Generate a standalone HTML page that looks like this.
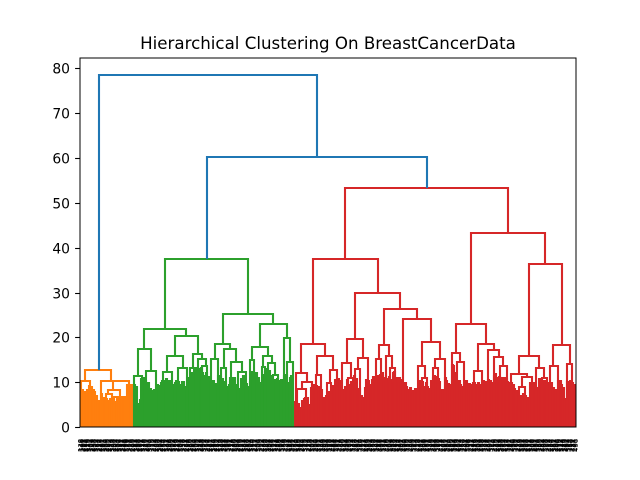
<!DOCTYPE html>
<html>
<head>
<meta charset="utf-8">
<style>
html,body{margin:0;padding:0;background:#fff;}
svg{display:block;font-family:"DejaVu Sans","Liberation Sans",sans-serif;}
</style>
</head>
<body>
<svg id="chart" width="640" height="480" viewBox="0 0 640 480" xmlns="http://www.w3.org/2000/svg">
  <defs><clipPath id="plot-clip"><rect x="80" y="57.6" width="496" height="369.6"/></clipPath></defs>
  <rect x="0" y="0" width="640" height="480" fill="#fff"/>
  <g id="marks" clip-path="url(#plot-clip)" fill="none" stroke-width="2.1"></g>
  <g id="y-axis"></g>
  <g id="x-labels" font-size="6.94" fill="#000"></g>
  <rect x="80" y="58" width="496" height="369" fill="none" stroke="#000" stroke-width="1.1" shape-rendering="crispEdges"/>
  <text x="328" y="49" text-anchor="middle" font-size="16.67" fill="#000">Hierarchical Clustering On BreastCancerData</text>
</svg>
<script>
// Link rows: [left leaf position, right leaf position, merge height, left leg base, right leg base]
const blueLinks = [
  [21.8, 271.8, 78.5, 12.7, 60.2],
  [145.7, 398, 60.2, 37.5, 53.3]
];
const orangeLinks = [
  [6.3, 36.1, 12.7, 10.4, 10.4],
  [1.5, 11.5, 10.4, 0, 0],
  [23.7, 47.4, 10.4, 0, 10.3],
  [38.2, 56.5, 10.3, 8.3, 9.4],
  [32.5, 45.9, 8.3, 7.5, 6.8],
  [29.5, 36.4, 7.5, 0, 0],
  [53.9, 59.6, 9.4, 0, 0],
  [39, 51.6, 6.8, 0, 0]
];
const greenLinks = [
  [97.5, 192.7, 37.5, 21.9, 25.3],
  [73.4, 121.6, 21.9, 17.4, 20.3],
  [163.7, 221.7, 25.3, 18.6, 23],
  [66.2, 81.4, 17.4, 11.5, 12.6],
  [109, 135.7, 20.3, 15.9, 16.3],
  [62.3, 71.5, 11.5, 0, 0],
  [75.4, 86.8, 12.6, 0, 0],
  [99.4, 118.5, 15.9, 12.2, 13.1],
  [95.5, 105.2, 12.2, 0, 0],
  [112.8, 122.4, 13.1, 0, 0],
  [130, 140.3, 16.3, 13.2, 15.2],
  [135.7, 144.5, 15.2, 0, 13.6],
  [126.2, 133.1, 13.2, 0, 0],
  [140.3, 146, 13.6, 0, 0],
  [154.8, 172, 18.6, 15.2, 17.4],
  [150.3, 158.6, 15.2, 0, 0],
  [165.2, 178.9, 17.4, 13.2, 14.5],
  [162.3, 167.5, 13.2, 0, 0],
  [173.2, 185.8, 14.5, 11, 12.2],
  [180.9, 190.1, 12.2, 0, 0],
  [172, 177.7, 11, 0, 0],
  [206.5, 237.1, 23, 17.9, 19.9],
  [197.3, 215.6, 17.9, 15, 15.9],
  [234, 240.9, 19.9, 0, 14.5],
  [237.4, 244.3, 14.5, 0, 0],
  [195, 199.6, 15, 0, 0],
  [209.6, 219.9, 15.9, 13.4, 14.4],
  [208.8, 212.2, 13.4, 0, 0],
  [216, 223.7, 14.4, 0, 11.6],
  [221, 226.7, 11.6, 0, 0]
];
const redLinks = [
  [304, 491, 53.3, 37.5, 43.3],
  [267.3, 341.5, 37.5, 18.6, 30],
  [253.5, 281, 18.6, 12.1, 15.9],
  [247.4, 260.7, 12.1, 0, 10.1],
  [254.3, 265.8, 10.1, 8.5, 0],
  [248.5, 259, 8.5, 0, 0],
  [272.4, 290.5, 15.9, 11.6, 12.8],
  [270.4, 276.1, 11.6, 0, 0],
  [286.7, 295.1, 12.8, 9.8, 0],
  [282.9, 288, 9.8, 0, 0],
  [315.4, 367, 30, 19.7, 26.3],
  [306.2, 324.6, 19.7, 14.3, 15.4],
  [300.2, 310.5, 14.3, 0, 11],
  [307.4, 313.1, 11, 0, 0],
  [318.9, 330.3, 15.4, 13, 0],
  [315.4, 321, 13, 0, 0],
  [348.7, 386.5, 26.3, 18.3, 24.1],
  [343, 354.4, 18.3, 15.2, 15.9],
  [339.2, 345.2, 15.2, 0, 0],
  [350.6, 357.9, 15.9, 0, 13.2],
  [355.6, 361.3, 13.2, 0, 0],
  [370.5, 402.6, 24.1, 0, 19],
  [392.3, 412.9, 19, 13.6, 15.2],
  [387.7, 395.7, 13.6, 0, 11],
  [391.9, 398.3, 11, 0, 0],
  [407.2, 418.7, 15.2, 13.2, 0],
  [404.5, 410.3, 13.2, 0, 0],
  [448.5, 533.4, 43.3, 22.9, 36.4],
  [430.9, 465.3, 22.9, 16.6, 18.6],
  [426.7, 435.9, 16.6, 0, 14.5],
  [432.1, 440.4, 14.5, 0, 0],
  [456.8, 474.9, 18.6, 12.5, 17.2],
  [451.9, 461.4, 12.5, 0, 0],
  [467.6, 480.6, 17.2, 0, 15.7],
  [474.9, 485.2, 15.7, 0, 13.6],
  [481.7, 489.4, 13.6, 0, 0],
  [515, 552.9, 36.4, 15.9, 18.3],
  [503.5, 526.8, 15.9, 11.9, 13.1],
  [494, 512.7, 11.9, 0, 11.3],
  [506.6, 518.1, 11.3, 9, 0],
  [503.5, 510.4, 9, 0, 0],
  [523, 532.2, 13.1, 0, 11],
  [529.6, 535.7, 11, 0, 0],
  [543.1, 562, 18.3, 13.7, 14.1],
  [539.1, 548.6, 13.7, 0, 0],
  [558.2, 564.7, 14.1, 0, 0]
];
// Lowest merge heights, one value per consecutive pair of leaves
const orangeLeafMerges = [7.8,8.3,7.8,7.6,8.2,9.2,9,8.2,7.8,7,5.8,5.4,7.4,6.6,6,6.4,5.8,6.2,5.6,6.2,5.6,6.6,6.2,6.4,6.8,6.2,6,8,9,8];
const greenLeafMerges = [8,9.4,9,5.2,6,10.8,11,10.4,9.4,9.8,8.6,8,8.2,6.8,9.4,9.2,9.8,10.2,10.4,10.8,10.2,10.4,9.6,9.4,10,10.2,10,9.4,10.2,10,9,9.4,11.2,11,12,13,13.2,13.2,13,13.2,12,11.4,12,11.2,10.8,10,10.2,9.6,4.4,11.4,11.2,10.8,9.8,10,9,9.6,10,10.6,10.8,9.6,9,8.6,10.8,11.6,11.4,9.6,9,10.2,12.2,12.4,12,12.4,11,9.8,10.2,11.6,12.4,13,12.6,11.4,10.6,10.6,10,10.8,10.2,10.6,10.4,11.4,11.6,9.8,11,11.4];
const redLeafMerges = [5.4,5.6,5.6,5.2,4.2,5.8,6.4,6.4,6.4,5,9,9.4,9.4,9.2,8.6,9,8.4,6.4,6.6,7,7.8,7.6,7.4,9.2,10.6,10.8,10.8,10.4,8.4,8,9,10.6,9.4,10,8.2,11.4,10.8,8,8.6,7,6.6,9,10.6,10.4,9.4,10.8,11.2,11,11.4,10.6,11.6,12,11,11.6,10.8,11.2,10.6,12.2,12.2,11,10.6,11,10.6,9.4,9.8,9,8.4,8.8,8,7.8,8.6,8.4,8,10.4,10,9,9.8,9,8.6,10.4,11.2,11.4,11.2,10.8,10.2,8.4,8.2,11,10.6,9.6,9.4,13.8,13.8,12,10.4,10.2,9.4,9,9.2,10.2,9.6,9.6,9.4,9.8,9.8,9.4,9.8,9,9.4,10.4,10,10,10.6,10.4,9.8,11.6,11.8,11,11.2,10.8,10.9,11,10.8,10.4,9.8,9.8,9.4,8.8,8,4.4,7,6.4,7.4,7,6.6,5.4,9.8,9,9.8,9,8.8,10.8,10.6,9.4,10.4,9.2,9.8,9.4,9.8,8.8,8.2,8.4,10.2,10.4,9.6,8.8,6.2,10,10.4,10.2,9.8,9.4,9.4];
const yTicks = [0,10,20,30,40,50,60,70,80];
const leafCount = 569;
const yMax = 82.4;

const SVGNS = 'http://www.w3.org/2000/svg';
const xScale = function (pos) { return 80 + pos * 496 / leafCount; };
const yScale = function (h) { return 427.2 - h * 369.6 / yMax; };

const marks = document.getElementById('marks');

function uPath(l, r, top, lb, rb) {
  const xl = Math.round(xScale(l));
  const xr = Math.round(xScale(r));
  const yt = Math.round(yScale(top));
  return 'M' + xl + ' ' + yScale(lb) + 'L' + xl + ' ' + yt +
         'L' + xr + ' ' + yt + 'L' + xr + ' ' + yScale(rb);
}

function drawLeaves(values, startPos, color, clusterName) {
  values.forEach(function (h, i) {
    const p = document.createElementNS(SVGNS, 'path');
    p.setAttribute('d', uPath(startPos + i * 2 + 0.5, startPos + i * 2 + 1.5, h, 0, 0));
    p.setAttribute('stroke', color);
    
    
    marks.appendChild(p);
  });
}

function drawLinks(rows, color, clusterName) {
  rows.forEach(function (row) {
    const p = document.createElementNS(SVGNS, 'path');
    p.setAttribute('d', uPath(row[0], row[1], row[2], row[3], row[4]));
    p.setAttribute('stroke', color);
    
    
    marks.appendChild(p);
  });
}

drawLeaves(orangeLeafMerges, 0, '#ff7f0e', 'orange-cluster');
drawLeaves(greenLeafMerges, orangeLeafMerges.length * 2, '#2ca02c', 'green-cluster');
drawLeaves(redLeafMerges, (orangeLeafMerges.length + greenLeafMerges.length) * 2, '#d62728', 'red-cluster');
drawLinks(orangeLinks, '#ff7f0e', 'orange-cluster');
drawLinks(greenLinks, '#2ca02c', 'green-cluster');
drawLinks(redLinks, '#d62728', 'red-cluster');
drawLinks(blueLinks, '#1f77b4', 'top-level');

const yAxis = document.getElementById('y-axis');
yTicks.forEach(function (t) {
  const y = Math.round(yScale(t));
  const tick = document.createElementNS(SVGNS, 'line');
  tick.setAttribute('x1', 75.1);
  tick.setAttribute('x2', 80);
  tick.setAttribute('y1', y + 0.5);
  tick.setAttribute('y2', y + 0.5);
  tick.setAttribute('stroke', '#000');
  tick.setAttribute('stroke-width', 1.1);
  
  
  yAxis.appendChild(tick);
  const label = document.createElementNS(SVGNS, 'text');
  label.setAttribute('x', 70);
  label.setAttribute('y', y + 5.6);
  label.setAttribute('text-anchor', 'end');
  label.setAttribute('font-size', 13.89);
  label.setAttribute('fill', '#000');
  
  
  label.textContent = String(t);
  yAxis.appendChild(label);
});

// The 569 rotated leaf labels overlap into an illegible band in the reference.
const xLabels = document.getElementById('x-labels');
for (let i = 0; i < leafCount; i++) {
  const x = xScale(i + 0.5);
  const t = document.createElementNS(SVGNS, 'text');
  t.setAttribute('transform', 'translate(' + (x + 2.4) + ' 438.8) rotate(-90)');
  t.setAttribute('text-anchor', 'end');
  
  
  t.textContent = String((i * 211 + 138) % leafCount);
  xLabels.appendChild(t);
}
</script>
</body>
</html>
